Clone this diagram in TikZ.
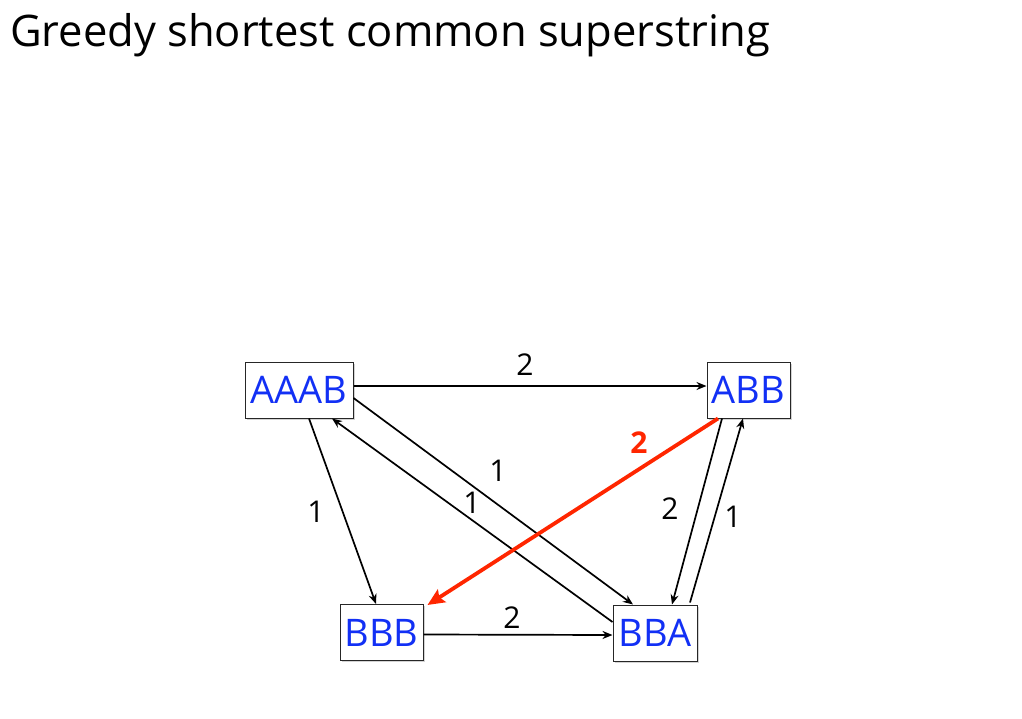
\documentclass[tikz,border=0pt]{standalone}
\usepackage{fontspec}
\setmainfont{Open Sans}
\usetikzlibrary{arrows.meta,shadows}
\definecolor{nodeblue}{RGB}{18,48,245}
\definecolor{hired}{RGB}{255,38,0}
\tikzset{
  strbox/.style={draw=black!85, line width=1pt, fill=white, inner sep=0pt,
    minimum height=56pt, text=nodeblue, font=\fontsize{38}{40}\selectfont,
    drop shadow={shadow xshift=1.5pt, shadow yshift=-1.5pt, opacity=0.35}},
  edge/.style={line width=1.7pt, -{Stealth[length=10pt,width=8pt]}},
  hiedge/.style={draw=hired, line width=3.8pt, -{Stealth[length=17pt,width=15pt,inset=3pt]}},
  wlabel/.style={font=\fontsize{30}{32}\selectfont, inner sep=0pt},
  hilabel/.style={wlabel, text=hired, font=\fontsize{30}{32}\selectfont\bfseries},
}
\begin{document}
\begin{tikzpicture}[x=1pt,y=-1pt]
\useasboundingbox (0,0) rectangle (1022,719);
\node[anchor=base west, inner sep=0pt, font=\fontsize{43.5}{48}\selectfont] (title) at (10,47) {Greedy shortest common superstring};

\node[strbox, minimum width=108pt] (aaab) at (299,390) {AAAB};
\node[strbox, minimum width=83pt] (abb) at (748.5,390) {ABB};
\node[strbox, minimum width=83pt] (bbb) at (381.5,632.5) {BBB};
\node[strbox, minimum width=84pt] (bba) at (655,633) {BBA};

\draw[edge] ([yshift=4pt]aaab.east) -- ([yshift=4pt]abb.west);
\draw[edge] ([yshift=-8pt]aaab.east) -- ([xshift=-22pt]bba.north);
\draw[edge] ([yshift=11pt]bba.west) -- ([xshift=33pt]aaab.south);
\draw[edge] ([xshift=10pt]aaab.south) -- ([xshift=-5.5pt]bbb.north);
\draw[edge] ([xshift=-26.5pt]abb.south) -- ([xshift=17pt]bba.north);
\draw[edge] ([xshift=35pt,yshift=2pt]bba.north) -- ([xshift=-5.5pt]abb.south);
\draw[edge] ([yshift=-2pt]bbb.east) -- ([yshift=-2pt]bba.west);
\draw[hiedge] ([xshift=-30.5pt]abb.south) -- ([xshift=4pt,yshift=-1pt]bbb.north east);

\node[wlabel] (l1) at (525,365) {2};
\node[wlabel] (l2) at (498,471) {1};
\node[wlabel] (l3) at (472,503) {1};
\node[wlabel] (l4) at (316,512) {1};
\node[wlabel] (l5) at (670,509) {2};
\node[wlabel] (l6) at (733,517) {1};
\node[wlabel] (l7) at (512,618) {2};
\node[hilabel] (l8) at (639,443) {2};
\end{tikzpicture}
\end{document}
